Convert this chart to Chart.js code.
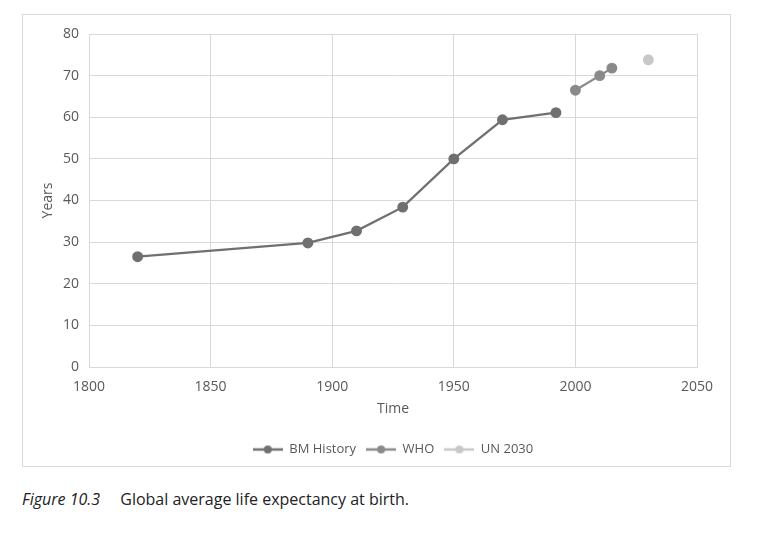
<!DOCTYPE html>
<html>
<head>
<meta charset="utf-8">
<script src="https://cdn.jsdelivr.net/npm/chart.js@4"></script>
<style>
  html, body { margin: 0; padding: 0; background: #fff; width: 764px; height: 538px; overflow: hidden; }
  #box { position: absolute; left: 22px; top: 14px; width: 709px; height: 453px; border: 1px solid #d9d9d9; box-sizing: border-box; }
  #box canvas { position: absolute; left: 0; top: 0; }
  #caption { position: absolute; left: 22px; top: 488px; font-family: "Open Sans", "Lato", sans-serif; font-size: 16px; color: #222; white-space: nowrap; }
  #caption i { margin-right: 16px; }
</style>
</head>
<body>
<div id="box"><canvas id="c" width="707" height="451"></canvas></div>
<div id="caption"><i>Figure 10.3</i> Global average life expectancy at birth.</div>
<script>
const bmYears = [1820, 1890, 1910, 1929, 1950, 1970, 1992];
const bmValues = [26.5, 29.8, 32.7, 38.4, 50.0, 59.4, 61.1];
const whoYears = [2000, 2010, 2015];
const whoValues = [66.5, 70.0, 71.8];
const unYears = [2030];
const unValues = [73.8];
const seriesNames = ["BM History", "WHO", "UN 2030"];
const xTicks = [1800, 1850, 1900, 1950, 2000, 2050];
const yTicks = [0, 10, 20, 30, 40, 50, 60, 70, 80];

const colors = ["#707070", "#8a8a8a", "#c8c8c8"];
const font = '"Open Sans", "Lato", sans-serif';

function pts(xs, ys) { return xs.map((x, i) => ({ x: x, y: ys[i] })); }

function legendIcon(color) {
  const cv = document.createElement('canvas');
  cv.width = 30; cv.height = 10;
  const g = cv.getContext('2d');
  g.strokeStyle = color; g.lineWidth = 2.5;
  g.beginPath(); g.moveTo(0, 5); g.lineTo(30, 5); g.stroke();
  g.fillStyle = color;
  g.beginPath(); g.arc(15, 5, 4, 0, Math.PI * 2); g.fill();
  return cv;
}

const datasets = [
  { label: seriesNames[0], data: pts(bmYears, bmValues) },
  { label: seriesNames[1], data: pts(whoYears, whoValues) },
  { label: seriesNames[2], data: pts(unYears, unValues) }
].map((d, i) => Object.assign(d, {
  borderColor: colors[i], backgroundColor: colors[i],
  pointBackgroundColor: colors[i], pointBorderColor: colors[i],
  borderWidth: 2.3, pointRadius: 4.3, pointHoverRadius: 4.3,
  tension: 0, showLine: true, pointStyle: 'circle'
}));

const shiftLegend = {
  id: 'shiftLegend',
  afterLayout(chart) {
    const lg = chart.legend;
    if (lg) { lg.left += 33; lg.right += 33; }
  }
};

new Chart(document.getElementById('c'), {
  type: 'scatter',
  data: { datasets: datasets },
  plugins: [shiftLegend],
  options: {
    responsive: false,
    animation: false,
    devicePixelRatio: 1,
    layout: { padding: { left: 0, right: 33, top: 19, bottom: 0 } },
    plugins: {
      tooltip: { enabled: false },
      legend: {
        position: 'bottom',
        labels: {
          usePointStyle: true,
          pointStyleWidth: 30,
          font: { family: font, size: 13 },
          color: '#595959',
          padding: 10,
          generateLabels: (chart) => chart.data.datasets.map((d, i) => ({
            text: d.label, fillStyle: colors[i], strokeStyle: colors[i],
            pointStyle: legendIcon(colors[i]), datasetIndex: i, fontColor: '#595959', lineWidth: 0
          }))
        }
      }
    },
    scales: {
      x: {
        type: 'linear', min: 1800, max: 2050,
        afterBuildTicks: (s) => { s.ticks = xTicks.map(v => ({ value: v })); },
        afterFit: (s) => { s.height = 66; },
        grid: { color: '#d9d9d9', lineWidth: 1, drawTicks: false },
        border: { color: '#d9d9d9' },
        ticks: { color: '#595959', font: { family: font, size: 14 }, padding: 12, maxRotation: 0, callback: (v) => String(v) },
        title: { display: true, text: 'Time', color: '#595959', font: { family: font, size: 14 }, padding: { top: 0, bottom: 16 } }
      },
      y: {
        min: 0, max: 80,
        afterBuildTicks: (s) => { s.ticks = yTicks.map(v => ({ value: v })); },
        afterFit: (s) => { s.width = 66; },
        grid: { color: '#d9d9d9', lineWidth: 1, drawTicks: false },
        border: { color: '#d9d9d9' },
        ticks: { color: '#595959', font: { family: font, size: 14 }, padding: 10, callback: (v) => String(v) },
        title: { display: true, text: 'Years', color: '#595959', font: { family: font, size: 14 }, padding: { top: 17, bottom: 0 } }
      }
    }
  }
});
</script>
</body>
</html>
